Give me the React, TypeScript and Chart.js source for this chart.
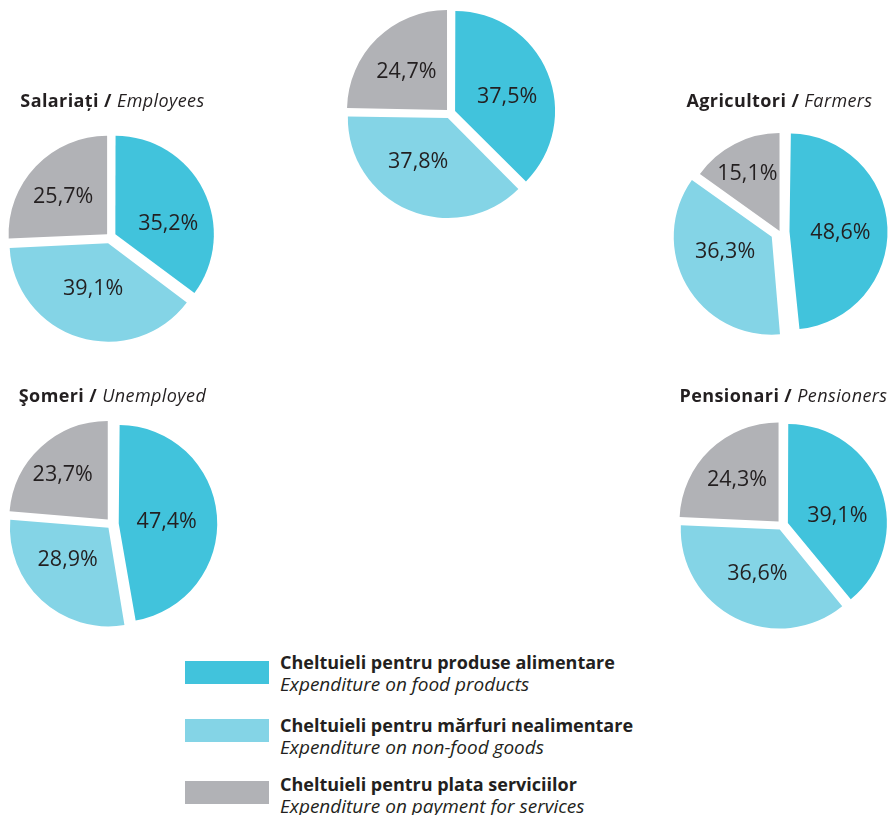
import React, { useEffect, useRef } from 'react';
import { Chart, registerables } from 'chart.js';

Chart.register(...registerables);

// ---- data ----
const seriesLabelsRo = [
  'Cheltuieli pentru produse alimentare',
  'Cheltuieli pentru mărfuri nealimentare',
  'Cheltuieli pentru plata serviciilor',
];
const seriesLabelsEn = [
  'Expenditure on food products',
  'Expenditure on non-food goods',
  'Expenditure on payment for services',
];
const groupNamesRo = ['Total', 'Salariați', 'Agricultori', 'Şomeri', 'Pensionari'];
const groupNamesEn = ['Total', 'Employees', 'Farmers', 'Unemployed', 'Pensioners'];

const totalValues = [37.5, 37.8, 24.7];
const employeesValues = [35.2, 39.1, 25.7];
const farmersValues = [48.6, 36.3, 15.1];
const unemployedValues = [47.4, 28.9, 23.7];
const pensionersValues = [39.1, 36.6, 24.3];

// ---- styles ----
const COLORS = ['#41C3DC', '#84D4E6', '#B1B2B6'];
const FONT = '"Open Sans", "Noto Sans", sans-serif';
const TEXT = '#231F20';
const CANVAS = 260;

const fmt = (v: number) => v.toFixed(1).replace('.', ',') + '%';

// keep every slice at the same visual radius (Chart.js grows offset slices)
const evenRadiusPlugin = {
  id: 'evenRadius',
  beforeDatasetsDraw(chart: any) {
    const meta = chart.getDatasetMeta(0);
    const base = meta.controller.outerRadius;
    meta.data.forEach((arc: any) => {
      const off = (arc.options.offset || 0) / 4;
      const fix = 1 - Math.sin(Math.min(Math.PI, arc.circumference || 0));
      arc.outerRadius = base - off * fix;
    });
  },
};

const labelPlugin = {
  id: 'sliceLabels',
  afterDatasetsDraw(chart: any, _args: any, opts: any) {
    const ctx = chart.ctx;
    const meta = chart.getDatasetMeta(0);
    const data = chart.data.datasets[0].data as number[];
    const nudges: number[] = opts.nudges || [];
    const dists: number[] = opts.dists || [];
    ctx.save();
    ctx.font = `21.5px ${FONT}`;
    ctx.fillStyle = TEXT;
    ctx.textAlign = 'center';
    ctx.textBaseline = 'middle';
    meta.data.forEach((arc: any, i: number) => {
      const mid = (arc.startAngle + arc.endAngle) / 2;
      const shift = (arc.options.offset || 0) / 4;
      const ox = arc.x + Math.cos(mid) * shift;
      const oy = arc.y + Math.sin(mid) * shift;
      const a = mid + ((nudges[i] || 0) * Math.PI) / 180;
      const d = dists[i] ?? 55;
      ctx.fillText(fmt(data[i]), ox + Math.cos(a) * d, oy + Math.sin(a) * d);
    });
    ctx.restore();
  },
};

type PieProps = {
  values: number[];
  offsets: number[];
  cx: number;
  cy: number;
  radius: number;
  nudges: number[];
  dists: number[];
};

function PieChart({ values, offsets, cx, cy, radius, nudges, dists }: PieProps) {
  const ref = useRef<HTMLCanvasElement | null>(null);
  useEffect(() => {
    if (!ref.current) return;
    const chart = new Chart(ref.current, {
      type: 'pie',
      data: {
        labels: seriesLabelsRo,
        datasets: [
          {
            data: values,
            backgroundColor: COLORS,
            borderWidth: 0,
            offset: offsets,
            hoverOffset: 0,
          } as any,
        ],
      },
      options: {
        animation: false,
        responsive: false,
        radius,
        layout: { padding: 0 },
        events: [],
        plugins: {
          legend: { display: false },
          tooltip: { enabled: false },
          title: { display: false },
          sliceLabels: { nudges, dists },
        },
      } as any,
      plugins: [evenRadiusPlugin, labelPlugin],
    });
    return () => chart.destroy();
  }, []);
  return (
    <canvas
      ref={ref}
      width={CANVAS}
      height={CANVAS}
      style={{ position: 'absolute', left: cx - CANVAS / 2, top: cy - CANVAS / 2, width: CANVAS, height: CANVAS }}
    />
  );
}

function Title({ ro, en, cx, top }: { ro: string; en: string; cx: number; top: number }) {
  return (
    <div
      style={{
        position: 'absolute',
        left: cx - 150,
        top,
        width: 300,
        textAlign: 'center',
        fontFamily: FONT,
        fontSize: 18,
        letterSpacing: '0.4px',
        lineHeight: '20px',
        color: TEXT,
        whiteSpace: 'nowrap',
      }}
    >
      <span style={{ fontWeight: 700 }}>{ro} /</span> <i>{en}</i>
    </div>
  );
}

export default function App() {
  const legendTops = [651, 713.5, 772.5];
  const swatchTops = [661, 719, 781];
  return (
    <div style={{ position: 'absolute', left: 0, top: 0, width: 890, height: 815, background: '#fff', overflow: 'hidden' }}>
      <PieChart values={totalValues} offsets={[22, 22, 17]} cx={450} cy={113} radius={100} nudges={[7, 11, -2]} dists={[54, 53, 56]} />
      <PieChart values={employeesValues} offsets={[24, 26, 16]} cx={110} cy={237} radius={98.5} nudges={[15, 1, -3]} dists={[54, 48, 58]} />
      <PieChart values={farmersValues} offsets={[38, 38, 4]} cx={779.5} cy={232} radius={98} nudges={[4, 12, -2]} dists={[51, 49, 66]} />
      <PieChart values={unemployedValues} offsets={[27, 21, 25]} cx={111.5} cy={523.6} radius={98.5} nudges={[3, 9, -3]} dists={[48, 52, 63]} />
      <PieChart values={pensionersValues} offsets={[25, 20, 20]} cx={781.7} cy={524.5} radius={99} nudges={[11, 0, -1]} dists={[50, 50, 59]} />

      <Title ro={groupNamesRo[1]} en={groupNamesEn[1]} cx={112.5} top={89.5} />
      <Title ro={groupNamesRo[2]} en={groupNamesEn[2]} cx={779.5} top={89.5} />
      <Title ro={groupNamesRo[3]} en={groupNamesEn[3]} cx={112.5} top={384.5} />
      <Title ro={groupNamesRo[4]} en={groupNamesEn[4]} cx={783.5} top={384.5} />

      {seriesLabelsRo.map((ro, i) => (
        <React.Fragment key={ro}>
          <div style={{ position: 'absolute', left: 185, top: swatchTops[i], width: 84, height: 23, background: COLORS[i] }} />
          <div
            style={{
              position: 'absolute',
              left: 280,
              top: legendTops[i],
              fontFamily: FONT,
              fontSize: 18,
              lineHeight: '22px',
              color: TEXT,
              whiteSpace: 'nowrap',
            }}
          >
            <div style={{ fontWeight: 700 }}>{ro}</div>
            <div style={{ fontStyle: 'italic', fontSize: 19 }}>{seriesLabelsEn[i]}</div>
          </div>
        </React.Fragment>
      ))}
    </div>
  );
}
